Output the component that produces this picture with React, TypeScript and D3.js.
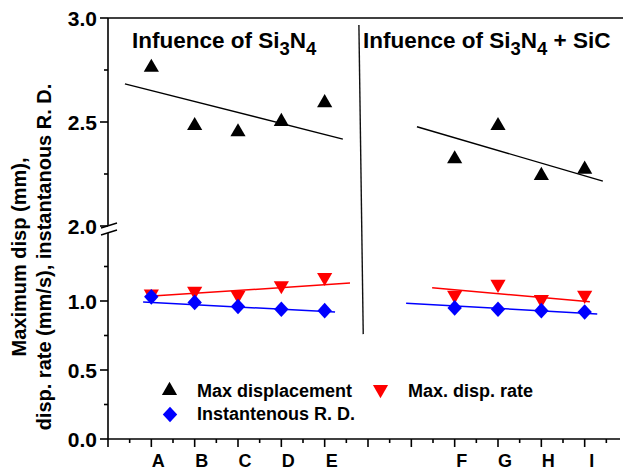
import React from "react";
import * as d3 from "d3";

// Specimen positions along the x axis and their labels
const CATEGORIES = ["A", "B", "C", "D", "E", "F", "G", "H", "I"];
const CATEGORY_X = [1, 2, 3, 4, 5, 8, 9, 10, 11];

// Measured series
const MAX_DISP = [2.77, 2.49, 2.46, 2.51, 2.6, 2.33, 2.49, 2.25, 2.28];
const MAX_RATE = [1.04, 1.06, 1.03, 1.1, 1.16, 1.03, 1.11, 1.0, 1.03];
const INST_RD = [1.03, 0.99, 0.96, 0.94, 0.93, 0.95, 0.94, 0.93, 0.92];

// Trend lines: [x, y] endpoints
const DISP_TREND_LEFT = [[0.39, 2.683], [5.42, 2.418]];
const DISP_TREND_RIGHT = [[7.13, 2.477], [11.42, 2.216]];
const RATE_TREND_LEFT = [[0.85, 1.032], [5.585, 1.13]];
const RATE_TREND_RIGHT = [[7.48, 1.096], [11.12, 0.995]];
const RD_TREND_LEFT = [[0.81, 0.993], [5.24, 0.92]];
const RD_TREND_RIGHT = [[6.88, 0.983], [11.29, 0.906]];

// Divider between the two groups: top point on the upper segment, bottom on the lower
const DIVIDER_TOP = [5.79, 2.966];
const DIVIDER_BOTTOM = [5.89, 0.76];

// Axis ticks of the broken y axis
const UPPER_MAJOR = [2.0, 2.5, 3.0];
const UPPER_MINOR = [2.25, 2.75];
const LOWER_MAJOR = [0.0, 0.5, 1.0];
const LOWER_MINOR = [0.25, 0.75, 1.25];

const TITLE_LEFT = ["Infuence of Si", "3", "N", "4", ""];
const TITLE_RIGHT = ["Infuence of Si", "3", "N", "4", " + SiC"];

const LEGEND = ["Max displacement", "Max. disp. rate", "Instantenous R. D."];
const Y_TITLE = ["Maximum disp (mm),", "disp. rate (mm/s), instantanous R. D."];

const W = 623;
const H = 473;
const FONT = "Arial, 'Liberation Sans', Helvetica, sans-serif";

const x = d3.scaleLinear().domain([0, 12]).range([108, 628]);
const yTop = d3.scaleLinear().domain([2, 3]).range([226, 18]);
const yBot = d3.scaleLinear().domain([0, 1.5]).range([439, 232]);

const triUp = d3.symbol().type(d3.symbolTriangle).size(100);
const BLUE = "#0000ff";
const RED = "#ff0000";

function UpTri({ cx, cy, fill }: { cx: number; cy: number; fill: string }) {
  // shift so the bounding box is centered on the point
  return <path d={triUp()!} transform={`translate(${cx},${cy + 1.6})`} fill={fill} />;
}
function DownTri({ cx, cy, fill }: { cx: number; cy: number; fill: string }) {
  return <path d={triUp()!} transform={`translate(${cx},${cy - 1.6}) rotate(180)`} fill={fill} />;
}
function Diamond({ cx, cy, fill }: { cx: number; cy: number; fill: string }) {
  const w = 7.2, h = 7.8;
  return <path d={`M${cx},${cy - h}L${cx + w},${cy}L${cx},${cy + h}L${cx - w},${cy}Z`} fill={fill} />;
}

function Title({ parts, tx, ty }: { parts: string[]; tx: number; ty: number }) {
  return (
    <text x={tx} y={ty} fontFamily={FONT} fontWeight="bold" fontSize={22.5} fill="#000">
      <tspan>{parts[0]}</tspan>
      <tspan fontSize={18.5} dy={7}>{parts[1]}</tspan>
      <tspan dy={-7}>{parts[2]}</tspan>
      <tspan fontSize={18.5} dy={7}>{parts[3]}</tspan>
      <tspan dy={-7}>{parts[4]}</tspan>
    </text>
  );
}

export default function App() {
  const line = (pts: number[][], ys: d3.ScaleLinear<number, number>) =>
    d3.line<number[]>().x((p) => x(p[0])).y((p) => ys(p[1]))(pts)!;

  const xMajor = d3.range(0, 13, 1);
  const xMinor = d3.range(0.5, 12, 1);
  const axisStroke = 1.6;

  return (
    <svg
      width={W}
      height={H}
      viewBox={`0 0 ${W} ${H}`}
      style={{ position: "absolute", left: 0, top: 0, background: "#fff" }}
    >
      <rect width={W} height={H} fill="#fff" />

      {/* frame: top border and bottom axis */}
      <line x1={x(0)} x2={W} y1={yTop(3)} y2={yTop(3)} stroke="#000" strokeWidth={axisStroke} />
      <line x1={x(0)} x2={620} y1={yBot(0)} y2={yBot(0)} stroke="#000" strokeWidth={axisStroke} />

      {/* broken y axis */}
      <line x1={x(0)} x2={x(0)} y1={yTop(3)} y2={yTop(2) - 1} stroke="#000" strokeWidth={axisStroke} />
      <line x1={x(0)} x2={x(0)} y1={yBot(1.5) + 1} y2={yBot(0)} stroke="#000" strokeWidth={axisStroke} />
      <line x1={x(0) - 7} x2={x(0) + 9} y1={yTop(2) + 2} y2={yTop(2) - 3} stroke="#000" strokeWidth={1.4} />
      <line x1={x(0) - 7} x2={x(0) + 9} y1={yBot(1.5) + 3} y2={yBot(1.5) - 2} stroke="#000" strokeWidth={1.4} />

      {UPPER_MAJOR.map((v) => (
        <g key={`um${v}`}>
          <line x1={x(0) - 8} x2={x(0)} y1={yTop(v)} y2={yTop(v)} stroke="#000" strokeWidth={axisStroke} />
          <text x={97} y={yTop(v)} dy="0.36em" textAnchor="end" fontFamily={FONT} fontWeight="bold" fontSize={21}>
            {d3.format(".1f")(v)}
          </text>
        </g>
      ))}
      {UPPER_MINOR.map((v) => (
        <line key={`un${v}`} x1={x(0) - 4} x2={x(0)} y1={yTop(v)} y2={yTop(v)} stroke="#000" strokeWidth={axisStroke} />
      ))}
      {LOWER_MAJOR.map((v) => (
        <g key={`lm${v}`}>
          <line x1={x(0) - 8} x2={x(0)} y1={yBot(v)} y2={yBot(v)} stroke="#000" strokeWidth={axisStroke} />
          <text x={97} y={yBot(v)} dy="0.36em" textAnchor="end" fontFamily={FONT} fontWeight="bold" fontSize={21}>
            {d3.format(".1f")(v)}
          </text>
        </g>
      ))}
      {LOWER_MINOR.map((v) => (
        <line key={`ln${v}`} x1={x(0) - 4} x2={x(0)} y1={yBot(v)} y2={yBot(v)} stroke="#000" strokeWidth={axisStroke} />
      ))}

      {/* x ticks */}
      {xMajor.map((v) => (
        <line key={`xm${v}`} x1={x(v)} x2={x(v)} y1={yBot(0)} y2={yBot(0) + 8} stroke="#000" strokeWidth={axisStroke} />
      ))}
      {xMinor.map((v) => (
        <line key={`xn${v}`} x1={x(v)} x2={x(v)} y1={yBot(0)} y2={yBot(0) + 4} stroke="#000" strokeWidth={axisStroke} />
      ))}
      {CATEGORIES.map((c, i) => (
        <text
          key={`xl${c}`}
          x={x(CATEGORY_X[i]) + 7}
          y={467}
          textAnchor="middle"
          fontFamily={FONT}
          fontWeight="bold"
          fontSize={18}
        >
          {c}
        </text>
      ))}

      {/* y axis title */}
      {Y_TITLE.map((t, i) => (
        <text
          key={`yt${i}`}
          transform={`translate(${i === 0 ? 26 : 51},257) rotate(-90)`}
          textAnchor="middle"
          fontFamily={FONT}
          fontWeight="bold"
          fontSize={20}
        >
          {t}
        </text>
      ))}

      {/* divider between groups */}
      <line
        x1={x(DIVIDER_TOP[0])}
        y1={yTop(DIVIDER_TOP[1])}
        x2={x(DIVIDER_BOTTOM[0])}
        y2={yBot(DIVIDER_BOTTOM[1])}
        stroke="#111"
        strokeWidth={1.4}
      />

      {/* titles */}
      <Title parts={TITLE_LEFT} tx={132} ty={48} />
      <Title parts={TITLE_RIGHT} tx={363} ty={48} />

      {/* trend lines */}
      <path d={line(DISP_TREND_LEFT, yTop)} stroke="#000" strokeWidth={1.4} fill="none" />
      <path d={line(DISP_TREND_RIGHT, yTop)} stroke="#000" strokeWidth={1.4} fill="none" />
      <path d={line(RATE_TREND_LEFT, yBot)} stroke={RED} strokeWidth={1.5} fill="none" />
      <path d={line(RATE_TREND_RIGHT, yBot)} stroke={RED} strokeWidth={1.5} fill="none" />
      <path d={line(RD_TREND_LEFT, yBot)} stroke={BLUE} strokeWidth={1.5} fill="none" />
      <path d={line(RD_TREND_RIGHT, yBot)} stroke={BLUE} strokeWidth={1.5} fill="none" />

      {/* markers */}
      {MAX_DISP.map((v, i) => (
        <UpTri key={`d${i}`} cx={x(CATEGORY_X[i])} cy={yTop(v)} fill="#000" />
      ))}
      {MAX_RATE.map((v, i) => (
        <DownTri key={`r${i}`} cx={x(CATEGORY_X[i])} cy={yBot(v)} fill={RED} />
      ))}
      {INST_RD.map((v, i) => (
        <Diamond key={`b${i}`} cx={x(CATEGORY_X[i])} cy={yBot(v)} fill={BLUE} />
      ))}

      {/* legend */}
      <UpTri cx={169.5} cy={389} fill="#000" />
      <text x={197} y={397} fontFamily={FONT} fontWeight="bold" fontSize={18}>{LEGEND[0]}</text>
      <DownTri cx={380.5} cy={391} fill={RED} />
      <text x={408} y={397} fontFamily={FONT} fontWeight="bold" fontSize={18}>{LEGEND[1]}</text>
      <Diamond cx={170} cy={414.5} fill={BLUE} />
      <text x={197} y={420} fontFamily={FONT} fontWeight="bold" fontSize={18}>{LEGEND[2]}</text>
    </svg>
  );
}
